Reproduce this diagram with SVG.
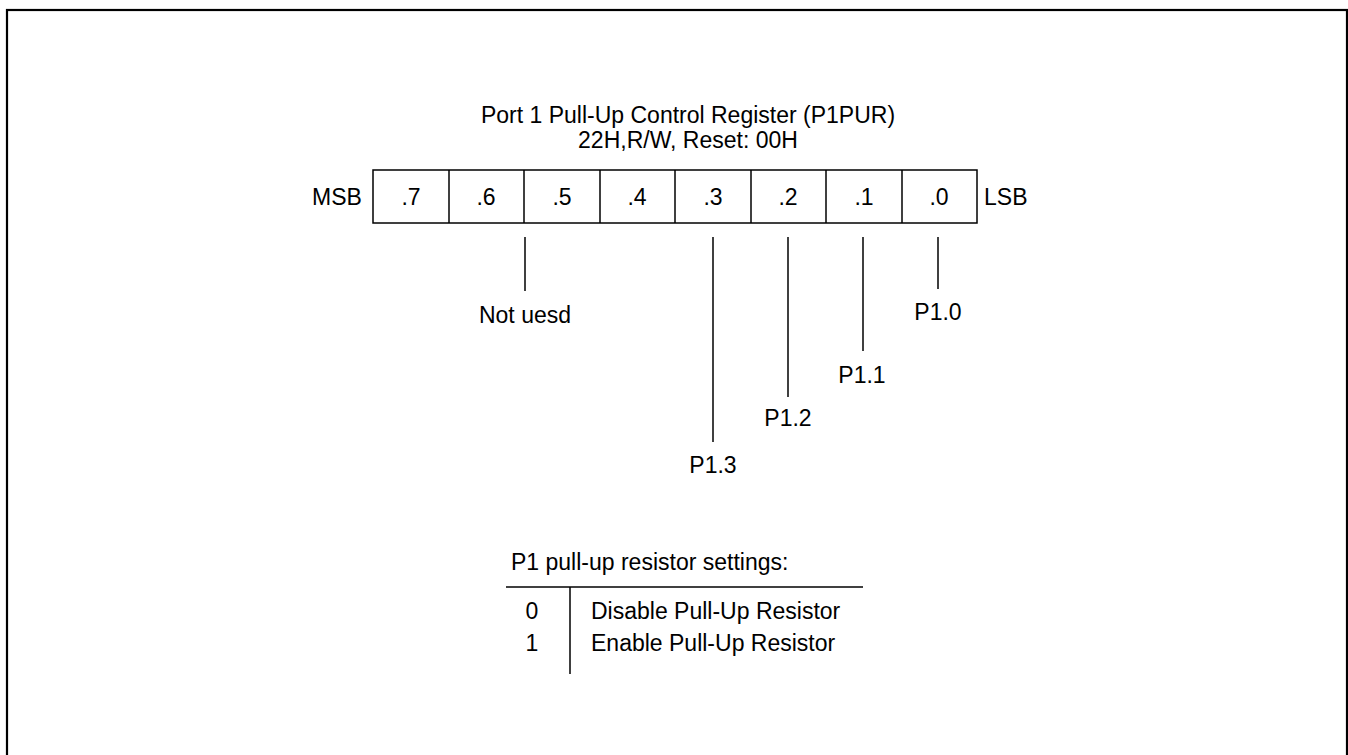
<svg xmlns="http://www.w3.org/2000/svg" width="1348" height="755" viewBox="0 0 1348 755">
<style>
text{font-family:"Liberation Sans",Arial,sans-serif;font-size:23px;fill:#000}
.m{text-anchor:middle}
.ln{stroke:#000;stroke-width:1.5;fill:none}
</style>
<rect x="0" y="0" width="1348" height="755" fill="#fff"/>
<rect x="7" y="10" width="1340" height="760" fill="none" stroke="#000" stroke-width="2.2"/>
<g id="title">
<text class="m" x="688" y="123">Port 1 Pull-Up Control Register (P1PUR)</text>
<text class="m" x="688" y="148">22H,R/W, Reset: 00H</text>
</g>
<g id="register">
<rect x="373" y="170" width="604" height="53" class="ln"/>
<line class="ln" x1="449" y1="170" x2="449" y2="223"/>
<line class="ln" x1="524" y1="170" x2="524" y2="223"/>
<line class="ln" x1="600" y1="170" x2="600" y2="223"/>
<line class="ln" x1="675" y1="170" x2="675" y2="223"/>
<line class="ln" x1="751" y1="170" x2="751" y2="223"/>
<line class="ln" x1="826" y1="170" x2="826" y2="223"/>
<line class="ln" x1="902" y1="170" x2="902" y2="223"/>
<text x="312" y="205">MSB</text>
<text x="984" y="205">LSB</text>
<text class="m" x="411" y="205">.7</text>
<text class="m" x="486" y="205">.6</text>
<text class="m" x="562" y="205">.5</text>
<text class="m" x="637" y="205">.4</text>
<text class="m" x="713" y="205">.3</text>
<text class="m" x="788" y="205">.2</text>
<text class="m" x="864" y="205">.1</text>
<text class="m" x="939" y="205">.0</text>
</g>
<g id="connectors">
<line class="ln" x1="525" y1="237" x2="525" y2="291"/>
<line class="ln" x1="713" y1="237" x2="713" y2="442"/>
<line class="ln" x1="788" y1="237" x2="788" y2="397"/>
<line class="ln" x1="863" y1="237" x2="863" y2="351"/>
<line class="ln" x1="938" y1="237" x2="938" y2="289"/>
</g>
<g id="labels">
<text class="m" x="525" y="323">Not uesd</text>
<text class="m" x="938" y="320">P1.0</text>
<text class="m" x="862" y="383">P1.1</text>
<text class="m" x="788" y="426">P1.2</text>
<text class="m" x="713" y="473">P1.3</text>
</g>
<g id="legend">
<text x="511" y="570">P1 pull-up resistor settings:</text>
<line class="ln" x1="506" y1="587" x2="863" y2="587"/>
<line class="ln" x1="570" y1="587" x2="570" y2="674"/>
<text class="m" x="532" y="619">0</text>
<text class="m" x="532" y="651">1</text>
<text x="591" y="619">Disable Pull-Up Resistor</text>
<text x="591" y="651">Enable Pull-Up Resistor</text>
</g>
</svg>
